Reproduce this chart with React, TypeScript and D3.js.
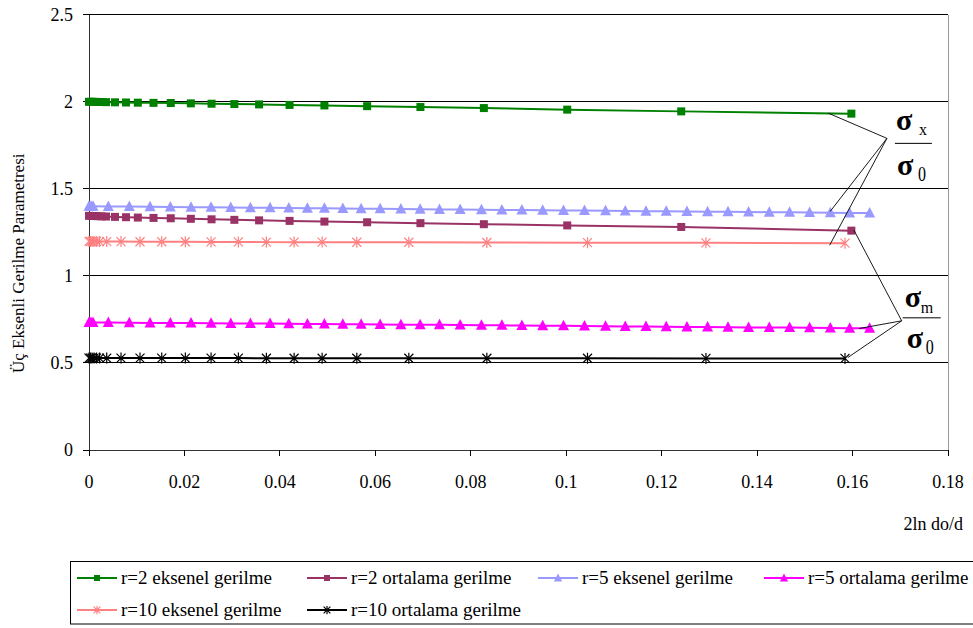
import React from 'react';
import * as d3 from 'd3';

// ---- Data ----
const r2X = [0, 0.00052, 0.00105, 0.00178, 0.00262, 0.00356, 0.00545, 0.00776, 0.01023, 0.01352, 0.01713, 0.02134, 0.02568, 0.03046, 0.03564, 0.04203, 0.04933, 0.05828, 0.06945, 0.08274, 0.10021, 0.1241, 0.15975];
const r2Eksenel = [2.0, 2.0, 2.0, 1.999, 1.999, 1.998, 1.997, 1.996, 1.995, 1.994, 1.993, 1.991, 1.989, 1.987, 1.985, 1.982, 1.979, 1.975, 1.97, 1.964, 1.955, 1.945, 1.932];
const r2Ortalama = [1.345, 1.344, 1.344, 1.343, 1.342, 1.341, 1.339, 1.337, 1.335, 1.333, 1.331, 1.328, 1.325, 1.322, 1.319, 1.316, 1.312, 1.308, 1.303, 1.297, 1.29, 1.281, 1.26];

const r5X = [0, 0.00042, 0.00084, 0.00405, 0.00845, 0.01279, 0.01704, 0.02138, 0.02558, 0.02971, 0.03382, 0.03794, 0.04187, 0.04576, 0.04933, 0.05319, 0.05702, 0.06101, 0.06535, 0.06939, 0.07344, 0.07778, 0.08224, 0.08652, 0.09071, 0.09507, 0.09943, 0.10383, 0.10824, 0.11237, 0.11671, 0.12096, 0.1253, 0.12962, 0.1339, 0.13821, 0.14255, 0.14681, 0.151, 0.15534, 0.15939, 0.16358];
const r5Eksenel = [1.4, 1.4, 1.4, 1.399, 1.398, 1.397, 1.396, 1.395, 1.394, 1.393, 1.392, 1.391, 1.39, 1.389, 1.388, 1.387, 1.386, 1.385, 1.384, 1.383, 1.382, 1.381, 1.38, 1.379, 1.378, 1.377, 1.376, 1.375, 1.374, 1.373, 1.372, 1.371, 1.37, 1.369, 1.368, 1.367, 1.366, 1.365, 1.364, 1.363, 1.362, 1.361];
const r5Ortalama = [0.733, 0.733, 0.733, 0.732, 0.731, 0.73, 0.73, 0.729, 0.728, 0.727, 0.727, 0.726, 0.725, 0.724, 0.724, 0.723, 0.722, 0.721, 0.72, 0.72, 0.719, 0.718, 0.717, 0.716, 0.715, 0.714, 0.713, 0.712, 0.711, 0.71, 0.709, 0.708, 0.707, 0.706, 0.705, 0.704, 0.704, 0.703, 0.702, 0.701, 0.7, 0.7];

const r10X = [0, 0.00031, 0.00063, 0.00105, 0.00157, 0.0022, 0.00371, 0.00671, 0.01069, 0.01524, 0.02019, 0.02558, 0.0313, 0.03717, 0.04298, 0.04885, 0.05612, 0.06702, 0.08337, 0.10446, 0.12928, 0.15842];
const r10Eksenel = [1.198, 1.198, 1.198, 1.198, 1.198, 1.197, 1.197, 1.197, 1.196, 1.196, 1.196, 1.195, 1.195, 1.194, 1.194, 1.194, 1.193, 1.193, 1.192, 1.191, 1.19, 1.188];
const r10Ortalama = [0.528, 0.528, 0.528, 0.528, 0.528, 0.528, 0.528, 0.528, 0.528, 0.528, 0.528, 0.528, 0.528, 0.527, 0.527, 0.527, 0.527, 0.527, 0.527, 0.527, 0.526, 0.526];

const seriesNames = ['r=2 eksenel gerilme', 'r=2 ortalama gerilme', 'r=5 eksenel gerilme', 'r=5 ortalama gerilme', 'r=10 eksenel gerilme', 'r=10 ortalama gerilme'];
const xTicks = [0, 0.02, 0.04, 0.06, 0.08, 0.1, 0.12, 0.14, 0.16, 0.18];
const xTickLabels = ['0', '0.02', '0.04', '0.06', '0.08', '0.1', '0.12', '0.14', '0.16', '0.18'];
const yTicks = [0, 0.5, 1, 1.5, 2, 2.5];
const yTickLabels = ['0', '0.5', '1', '1.5', '2', '2.5'];
const yTitle = 'Üç Eksenli Gerilme Parametresi';
const xTitle = '2ln do/d';

// annotation anchors (data units): apex and targets of leader lines
const sigmaXApex = [0.1672, 1.79];
const sigmaXTargets = [[0.1549, 1.935], [0.1553, 1.37], [0.1552, 1.176]];
const sigmaMApex = [0.1703, 0.742];
const sigmaMTargets = [[0.1603, 1.262], [0.1614, 0.698], [0.159, 0.531]];

// ---- Layout ----
const W = 973;
const H = 628;
const FONT = '"Liberation Serif", "Times New Roman", serif';

type MarkerType = 'square' | 'triangle' | 'asterisk';

function Marker({ type, cx, cy, color, s = 1 }: { type: MarkerType; cx: number; cy: number; color: string; s?: number }) {
  if (type === 'square') {
    return <rect x={cx - 4 * s} y={cy - 4 * s} width={8 * s} height={8 * s} fill={color} />;
  }
  if (type === 'triangle') {
    return <path d={`M${cx},${cy - 6 * s}L${cx + 5.5 * s},${cy + 4.5 * s}L${cx - 5.5 * s},${cy + 4.5 * s}Z`} fill={color} />;
  }
  return (
    <path
      d={`M${cx - 4.5 * s},${cy - 4.5 * s}L${cx + 4.5 * s},${cy + 4.5 * s}M${cx - 4.5 * s},${cy + 4.5 * s}L${cx + 4.5 * s},${cy - 4.5 * s}M${cx},${cy - 5.5 * s}L${cx},${cy + 5.5 * s}`}
      stroke={color}
      strokeWidth={1.2}
      fill="none"
    />
  );
}

export default function App() {
  const x = d3.scaleLinear().domain([0, 0.18]).range([89, 948]);
  const y = d3.scaleLinear().domain([0, 2.5]).range([450, 14.75]);

  const series = [
    { name: seriesNames[0], xs: r2X, ys: r2Eksenel, color: '#008000', marker: 'square' as MarkerType },
    { name: seriesNames[1], xs: r2X, ys: r2Ortalama, color: '#993366', marker: 'square' as MarkerType },
    { name: seriesNames[2], xs: r5X, ys: r5Eksenel, color: '#9999FF', marker: 'triangle' as MarkerType },
    { name: seriesNames[3], xs: r5X, ys: r5Ortalama, color: '#FF00FF', marker: 'triangle' as MarkerType },
    { name: seriesNames[4], xs: r10X, ys: r10Eksenel, color: '#FF8080', marker: 'asterisk' as MarkerType },
    { name: seriesNames[5], xs: r10X, ys: r10Ortalama, color: '#000000', marker: 'asterisk' as MarkerType },
  ];

  const line = d3
    .line<[number, number]>()
    .x((d) => x(d[0]))
    .y((d) => y(d[1]));

  const legendPos = [
    [77, 578],
    [307, 578],
    [538, 578],
    [764, 578],
    [77, 610],
    [307, 610],
  ];

  const [x0, x1] = x.range();
  const ax = x(sigmaXApex[0]);
  const ay = y(sigmaXApex[1]);
  const mx = x(sigmaMApex[0]);
  const my = y(sigmaMApex[1]);

  return (
    <svg width={W} height={H} style={{ position: 'absolute', left: 0, top: 0, background: '#fff', fontFamily: FONT }}>
      <rect x={0} y={0} width={W} height={H} fill="#fff" />
      {/* gridlines */}
      {yTicks.filter((t) => t > 0).map((t) => (
        <line key={'g' + t} x1={x0} x2={x1} y1={y(t)} y2={y(t)} stroke="#000" strokeWidth={1} shapeRendering="crispEdges" />
      ))}
      {/* right border */}
      <line x1={x1} x2={x1} y1={y(2.5)} y2={y(0)} stroke="#999" strokeWidth={1} shapeRendering="crispEdges" />
      {/* axes */}
      <line x1={x0} x2={x0} y1={y(2.5)} y2={y(0)} stroke="#333" strokeWidth={1} shapeRendering="crispEdges" />
      <line x1={x0} x2={x1} y1={y(0)} y2={y(0)} stroke="#333" strokeWidth={1} shapeRendering="crispEdges" />
      {yTicks.map((t, i) => (
        <g key={'yt' + t}>
          <line x1={x0 - 6} x2={x0} y1={y(t)} y2={y(t)} stroke="#000" shapeRendering="crispEdges" />
          <text x={73} y={y(t)} dy="0.35em" textAnchor="end" fontSize={18} fill="#000">
            {yTickLabels[i]}
          </text>
        </g>
      ))}
      {xTicks.map((t, i) => (
        <g key={'xt' + t}>
          <line x1={x(t)} x2={x(t)} y1={y(0)} y2={y(0) + 6} stroke="#000" shapeRendering="crispEdges" />
          <text x={x(t)} y={488} textAnchor="middle" fontSize={18} fill="#000">
            {xTickLabels[i]}
          </text>
        </g>
      ))}
      <text transform={`translate(24,${373}) rotate(-90)`} textAnchor="start" fontSize={17} fill="#000">
        {yTitle}
      </text>
      <text x={963} y={530} textAnchor="end" fontSize={18} fill="#000">
        {xTitle}
      </text>

      {/* series */}
      {series.map((s) => {
        const pts = s.xs.map((v, i) => [v, s.ys[i]] as [number, number]);
        return (
          <g key={s.name}>
            <path d={line(pts) || ''} fill="none" stroke={s.color} strokeWidth={2} />
            {pts.map((p, i) => (
              <Marker key={i} type={s.marker} cx={x(p[0])} cy={y(p[1])} color={s.color} />
            ))}
          </g>
        );
      })}

      {/* leader lines */}
      {sigmaXTargets.map((t, i) => (
        <line key={'lx' + i} x1={ax} y1={ay} x2={x(t[0])} y2={y(t[1])} stroke="#000" strokeWidth={0.9} />
      ))}
      {sigmaMTargets.map((t, i) => (
        <line key={'lm' + i} x1={mx} y1={my} x2={x(t[0])} y2={y(t[1])} stroke="#000" strokeWidth={0.9} />
      ))}

      {/* sigma_x / sigma_0 */}
      <text x={ax + 9} y={ay - 8} fontSize={30} fontWeight="bold" fill="#000">σ</text>
      <text x={ax + 32} y={ay - 3} fontSize={16} fill="#000">x</text>
      <line x1={ax + 8} x2={ax + 45} y1={ay + 5} y2={ay + 5} stroke="#000" strokeWidth={1} />
      <text x={ax + 10} y={ay + 37} fontSize={30} fontWeight="bold" fill="#000">σ</text>
      <text x={ax + 31} y={ay + 43} fontSize={21} fill="#000" textLength={8} lengthAdjust="spacingAndGlyphs">0</text>

      {/* sigma_m / sigma_0 */}
      <text x={mx + 3} y={my - 14} fontSize={30} fontWeight="bold" fill="#000">σ</text>
      <text x={mx + 19} y={my - 8} fontSize={16} fill="#000">m</text>
      <line x1={mx + 1} x2={mx + 39} y1={my - 3} y2={my - 3} stroke="#000" strokeWidth={1} />
      <text x={mx + 5} y={my + 27} fontSize={30} fontWeight="bold" fill="#000">σ</text>
      <text x={mx + 24} y={my + 33} fontSize={21} fill="#000" textLength={8} lengthAdjust="spacingAndGlyphs">0</text>

      {/* legend */}
      <rect x={70.5} y={561.5} width={W + 10} height={62.5} fill="none" stroke="#000" strokeWidth={1} />
      {series.map((s, i) => {
        const [lx, ly] = legendPos[i];
        return (
          <g key={'lg' + i}>
            <line x1={lx} x2={lx + 40} y1={ly} y2={ly} stroke={s.color} strokeWidth={2} />
            <Marker type={s.marker} cx={lx + 20} cy={ly} color={s.color} s={0.75} />
            <text x={lx + 44} y={ly + 6} fontSize={19} fill="#000">
              {s.name}
            </text>
          </g>
        );
      })}
    </svg>
  );
}
